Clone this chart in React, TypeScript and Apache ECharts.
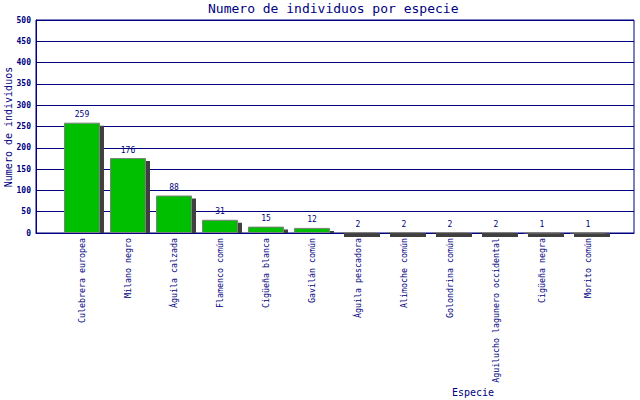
import { useEffect, useRef } from "react";
import * as echarts from "echarts";

const especies = [
  "Culebrera europea",
  "Milano negro",
  "Águila calzada",
  "Flamenco común",
  "Cigüeña blanca",
  "Gavilán común",
  "Águila pescadora",
  "Alimoche común",
  "Golondrina común",
  "Aguilucho lagunero occidental",
  "Cigüeña negra",
  "Morito común",
];
const individuos = [259, 176, 88, 31, 15, 12, 2, 2, 2, 2, 1, 1];

const NAVY = "#000080";
const FONT = "DejaVu Sans Mono";
const BAR_W = 36;

export default function App() {
  const ref = useRef<HTMLDivElement>(null);

  useEffect(() => {
    const el = ref.current;
    if (!el) return;
    const chart = echarts.init(el, undefined, { renderer: "svg" });
    chart.setOption({
      animation: false,
      backgroundColor: "#ffffff",
      grid: [
        {
          left: 36,
          top: 20,
          width: 598,
          height: 213,
          show: true,
          borderColor: NAVY,
          borderWidth: 1,
          backgroundColor: "#ffffff",
          containLabel: false,
          outerBoundsMode: "none",
        },
        { left: 59, top: 20, width: 552, height: 213, containLabel: false, outerBoundsMode: "none" },
      ],
      xAxis: [
        {
          gridIndex: 0,
          type: "value",
          min: 0,
          max: 1,
          axisLine: { show: true, lineStyle: { color: NAVY } },
          axisTick: { show: false },
          axisLabel: { show: false },
          splitLine: { show: false },
        },
        {
          gridIndex: 1,
          type: "category",
          data: especies,
          axisLine: { show: false },
          axisTick: { show: false },
          axisLabel: {
            rotate: 90,
            margin: 5,
            interval: 0,
            color: NAVY,
            fontFamily: FONT,
            fontSize: 8.3,
          },
        },
      ],
      yAxis: [
        {
          gridIndex: 0,
          type: "value",
          min: 0,
          max: 500,
          interval: 50,
          axisLine: { show: true, lineStyle: { color: NAVY } },
          axisTick: { show: false },
          axisLabel: { color: NAVY, fontFamily: FONT, fontSize: 8, fontWeight: "bold", margin: 5 },
          splitLine: { show: true, lineStyle: { color: NAVY, width: 1 } },
        },
        {
          gridIndex: 1,
          type: "value",
          min: 0,
          max: 500,
          show: false,
        },
      ],
      series: [
        {
          // drop shadow behind each bar
          type: "custom",
          xAxisIndex: 1,
          yAxisIndex: 1,
          z: 1,
          clip: false,
          data: individuos.map((v, i) => [i, v]),
          renderItem: (_params: any, api: any) => {
            const top = api.coord([api.value(0), api.value(1)]);
            const base = api.coord([api.value(0), 0]);
            const x = top[0] - BAR_W / 2 + 4;
            let y0 = top[1] + 3;
            let y1 = base[1];
            if (y0 > y1 - 1) {
              y0 = base[1];
              y1 = base[1] + 4;
            }
            return {
              type: "rect",
              shape: { x, y: y0, width: BAR_W, height: y1 - y0 },
              style: { fill: "#404040" },
            };
          },
        },
        {
          type: "bar",
          xAxisIndex: 1,
          yAxisIndex: 1,
          z: 2,
          data: individuos,
          barWidth: BAR_W,
          itemStyle: {
            color: "#00bf00",
            borderColor: "#808080",
            borderWidth: 1,
          },
          label: {
            show: true,
            position: "top",
            distance: 4,
            color: NAVY,
            fontFamily: FONT,
            fontSize: 8,
          },
        },
      ],
      graphic: [
        {
          type: "text",
          left: 208,
          top: 2,
          style: {
            text: "Numero de individuos por especie",
            fill: NAVY,
            fontFamily: FONT,
            fontSize: 13,
          },
        },
        {
          type: "text",
          x: 8,
          y: 127,
          rotation: Math.PI / 2,
          style: {
            text: "Numero de individuos",
            fill: NAVY,
            fontFamily: FONT,
            fontSize: 10,
            align: "center",
            verticalAlign: "middle",
          },
        },
        {
          type: "text",
          left: 452,
          top: 387,
          style: {
            text: "Especie",
            fill: NAVY,
            fontFamily: FONT,
            fontSize: 10,
          },
        },
      ],
    });
    return () => {
      chart.dispose();
    };
  }, []);

  return (
    <div
      ref={ref}
      style={{ position: "fixed", left: 0, top: 0, width: 640, height: 400 }}
    />
  );
}
